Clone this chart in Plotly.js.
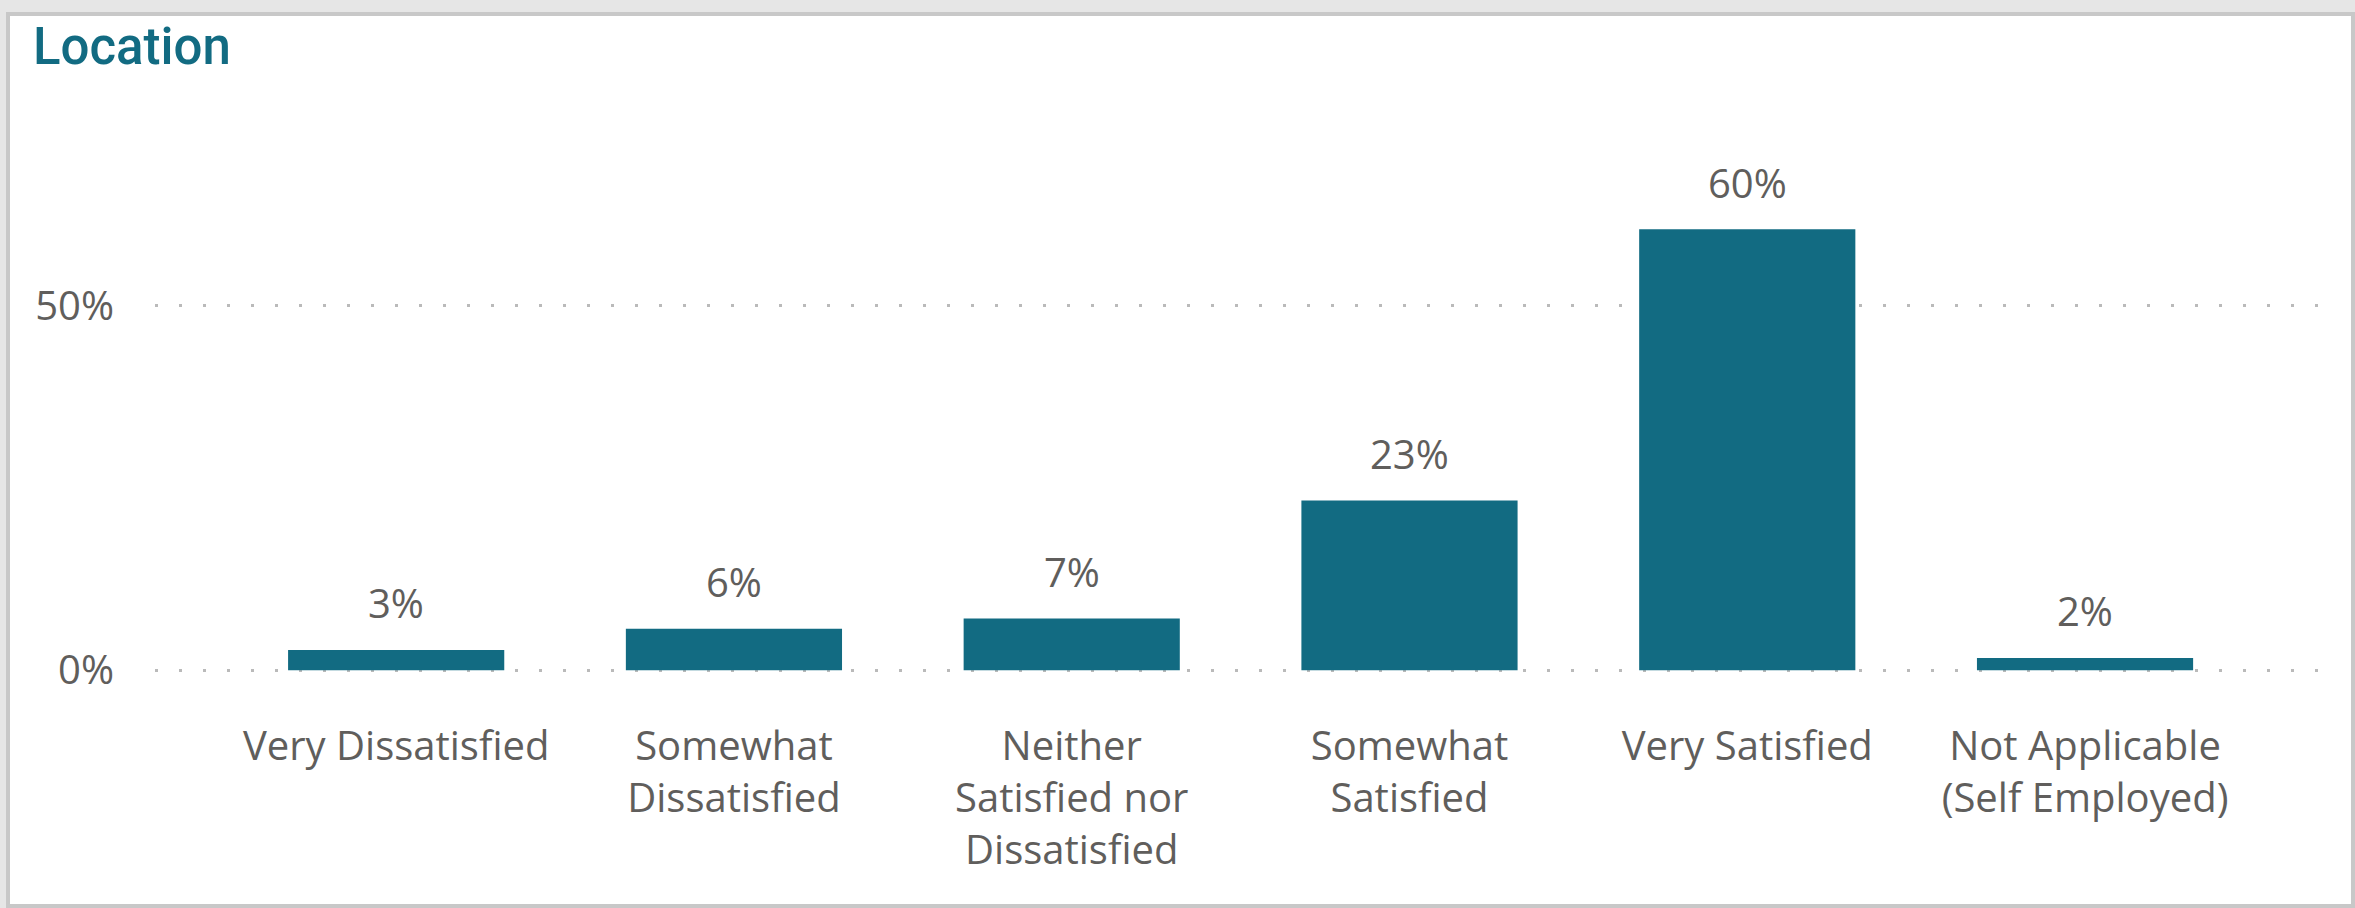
<!DOCTYPE html>
<html>
<head>
<meta charset="utf-8">
<script src="https://cdn.plot.ly/plotly-3.0.1.min.js"></script>
<style>
  html, body { margin: 0; padding: 0; background: #e6e6e6; width: 2355px; height: 908px; overflow: hidden; }
  #card { position: absolute; left: 6px; top: 12px; width: 2341px; height: 888px; border: 4px solid #c8c8c8; background: #ffffff; }
  #chart { width: 2341px; height: 888px; }
</style>
</head>
<body>
<div id="card"><div id="chart"></div></div>
<script>
const categories = [
  "Very Dissatisfied",
  "Somewhat<br>Dissatisfied",
  "Neither<br>Satisfied nor<br>Dissatisfied",
  "Somewhat<br>Satisfied",
  "Very Satisfied",
  "Not Applicable<br>(Self Employed)"
];
const values = [2.8, 5.7, 7.1, 23.3, 60.5, 1.7];
const valueLabels = ["3%", "6%", "7%", "23%", "60%", "2%"];
const yTickVals = [0, 50];
const yTickText = ["0%", "50%"];

const teal = "#126B82";
const gray = "#605E5C";
const W = 2341, H = 888;

const trace = {
  type: "bar",
  x: categories,
  y: values,
  marker: { color: teal },
  hoverinfo: "none"
};

const annotations = categories.map((c, i) => ({
  x: c, y: values[i], xref: "x", yref: "y",
  text: valueLabels[i], showarrow: false,
  yanchor: "middle", yshift: 47,
  font: { family: "Open Sans, Noto Sans, sans-serif", size: 40, color: gray }
}));

const layout = {
  width: W, height: H,
  paper_bgcolor: "#ffffff", plot_bgcolor: "#ffffff",
  margin: { l: 145, r: 15, t: 144, b: 230 },
  showlegend: false,
  bargap: 0.36,
  title: {
    text: "Location",
    x: 23 / W, xanchor: "left", xref: "container",
    y: 1 - 30 / H, yanchor: "middle", yref: "container",
    font: { family: "Roboto, sans-serif", size: 51, color: teal, weight: 500 }
  },
  xaxis: {
    type: "category",
    range: [-0.714, 5.743],
    showgrid: false, zeroline: false, showline: false, ticks: "",
    ticklabelstandoff: 45,
    tickfont: { family: "Open Sans, Noto Sans, sans-serif", size: 40, color: gray }
  },
  yaxis: {
    range: [-0.5, 70],
    tickvals: yTickVals, ticktext: yTickText,
    showgrid: true, gridcolor: "#bababa", gridwidth: 3, griddash: "3px,21px",
    zeroline: false, showline: false, ticks: "",
    ticklabelstandoff: 40,
    tickfont: { family: "Open Sans, Noto Sans, sans-serif", size: 40, color: gray }
  },
  annotations: annotations
};

Plotly.newPlot("chart", [trace], layout, { displayModeBar: false, staticPlot: true });
</script>
</body>
</html>
